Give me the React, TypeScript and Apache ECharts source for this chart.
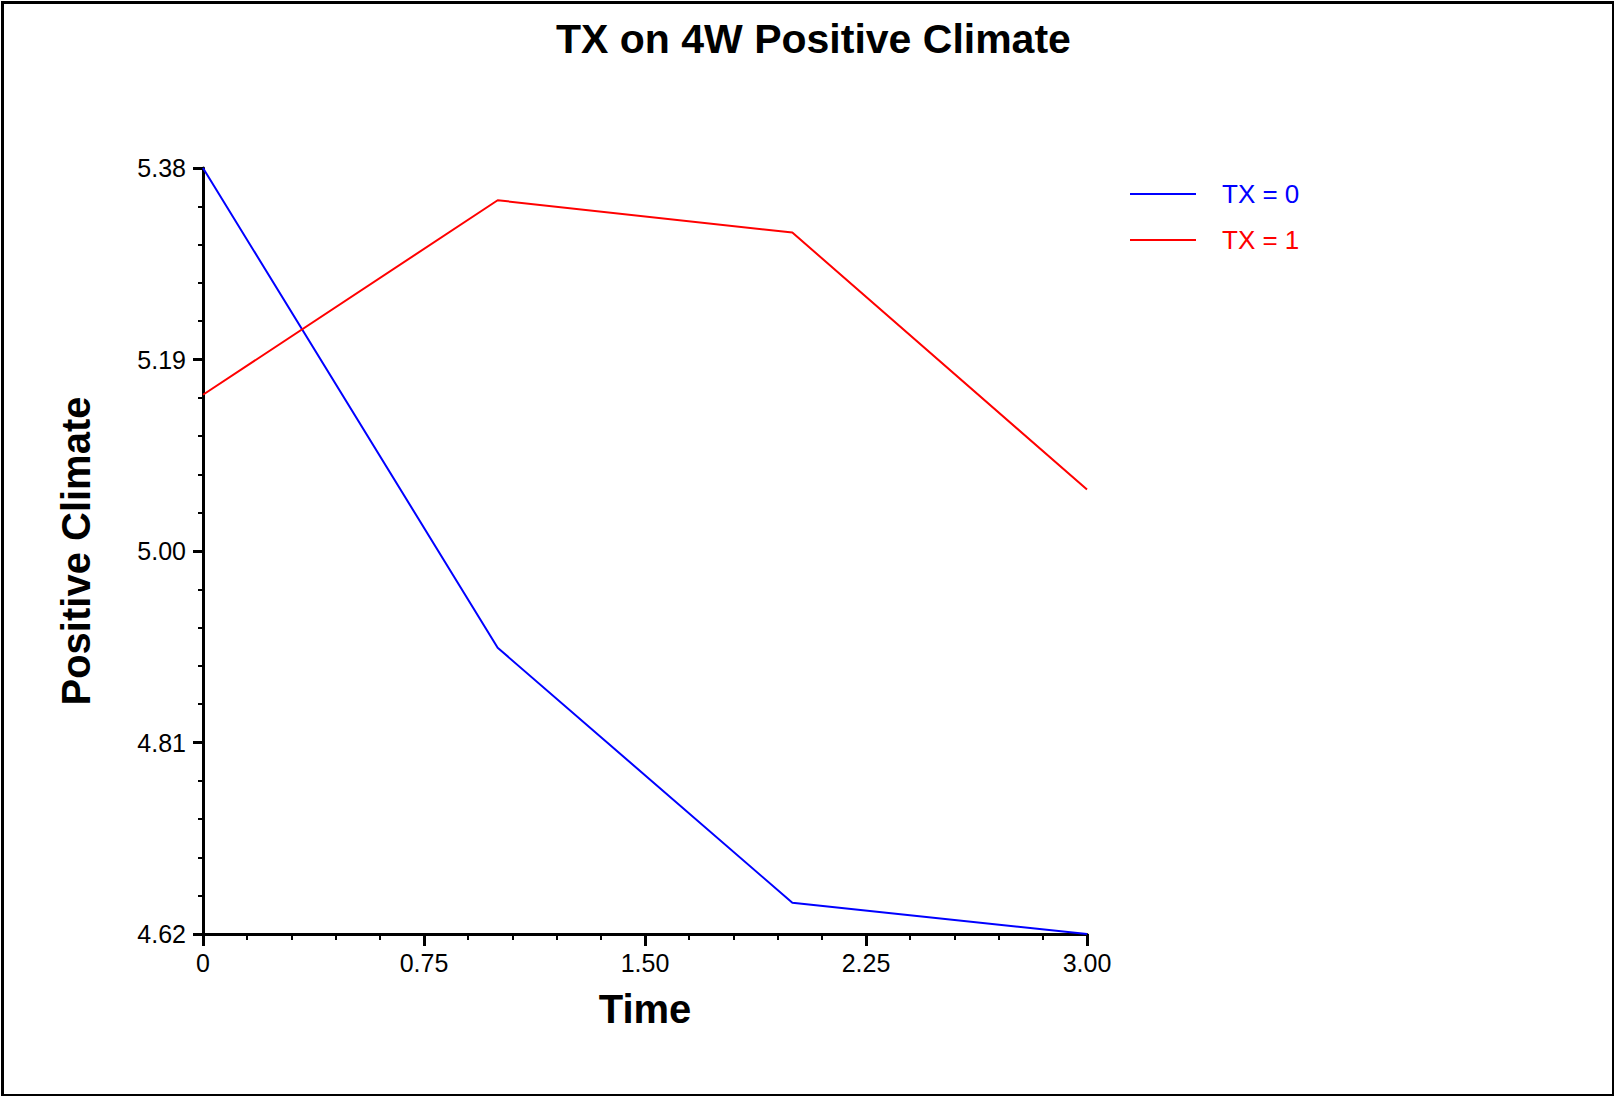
import React, { useEffect, useRef } from "react";
import * as echarts from "echarts";

const times = [0, 1, 2, 3];
const tx0Values = [5.38, 4.904, 4.651, 4.62];
const tx1Values = [5.155, 5.348, 5.316, 5.061];
const seriesNames = ["TX = 0", "TX = 1"];
const seriesColors = ["#0000ff", "#ff0000"];
const yMin = 4.62;
const yMax = 5.38;
const yInterval = 0.19;
const xMin = 0;
const xMax = 3;
const xInterval = 0.75;

const FONT = "'Liberation Sans', Arial, Helvetica, sans-serif";

export default function App() {
  const ref = useRef<HTMLDivElement>(null);
  useEffect(() => {
    document.body.style.margin = "0";
    const chart = echarts.init(ref.current!, null, { renderer: "svg" });
    const toPairs = (vals: number[]) => times.map((t, i) => [t, vals[i]]);
    chart.setOption({
      animation: false,
      backgroundColor: "#ffffff",
      textStyle: { fontFamily: FONT },
      title: {
        text: "TX on 4W Positive Climate",
        left: 551,
        top: 13,
        textStyle: { fontFamily: FONT, fontSize: 41, fontWeight: "bold", color: "#000" },
      },
      legend: {
        orient: "vertical",
        left: 1125,
        top: 176,
        icon: "rect",
        itemWidth: 66,
        itemHeight: 2,
        itemGap: 20,
        data: seriesNames.map((n, i) => ({ name: n, textStyle: { color: seriesColors[i] } })),
        textStyle: { fontFamily: FONT, fontSize: 26, padding: [0, 0, 0, 21] },
      },
      grid: { left: 203, top: 168, right: 527, bottom: 162, containLabel: false },
      xAxis: {
        type: "value",
        min: xMin,
        max: xMax,
        interval: xInterval,
        name: "Time",
        nameLocation: "middle",
        nameGap: 55,
        nameTextStyle: { fontFamily: FONT, fontSize: 40, fontWeight: "bold", color: "#000" },
        axisLine: { show: true, onZero: false, lineStyle: { color: "#000", width: 3 } },
        axisTick: { show: true, length: 12, lineStyle: { color: "#000", width: 3 } },
        minorTick: { show: true, splitNumber: 5, length: 6, lineStyle: { color: "#000", width: 2 } },
        splitLine: { show: false },
        axisLabel: {
          margin: 16,
          fontFamily: FONT,
          fontSize: 25,
          color: "#000",
          formatter: (v: number) => (v === 0 ? "0" : v.toFixed(2)),
        },
      },
      yAxis: {
        type: "value",
        min: yMin,
        max: yMax,
        interval: yInterval,
        name: "Positive Climate",
        nameLocation: "middle",
        nameGap: 107,
        nameTextStyle: { fontFamily: FONT, fontSize: 40, fontWeight: "bold", color: "#000" },
        axisLine: { show: true, onZero: false, lineStyle: { color: "#000", width: 3 } },
        axisTick: { show: true, length: 10, lineStyle: { color: "#000", width: 3 } },
        minorTick: { show: true, splitNumber: 5, length: 5, lineStyle: { color: "#000", width: 2 } },
        splitLine: { show: false },
        axisLabel: {
          margin: 17,
          fontFamily: FONT,
          fontSize: 25,
          color: "#000",
          formatter: (v: number) => v.toFixed(2),
        },
      },
      series: [
        {
          name: seriesNames[0],
          type: "line",
          data: toPairs(tx0Values),
          symbol: "none",
          color: seriesColors[0],
          lineStyle: { color: seriesColors[0], width: 2 },
        },
        {
          name: seriesNames[1],
          type: "line",
          data: toPairs(tx1Values),
          symbol: "none",
          color: seriesColors[1],
          lineStyle: { color: seriesColors[1], width: 2 },
        },
      ],
      graphic: [
        {
          type: "rect",
          left: 0,
          top: 0,
          shape: { x: 1.5, y: 1.5, width: 1611, height: 1093 },
          style: { fill: "none", stroke: "#000", lineWidth: 3 },
          silent: true,
          z: 100,
        },
      ],
    });
    return () => chart.dispose();
  }, []);
  return <div ref={ref} style={{ width: 1614, height: 1096 }} />;
}
